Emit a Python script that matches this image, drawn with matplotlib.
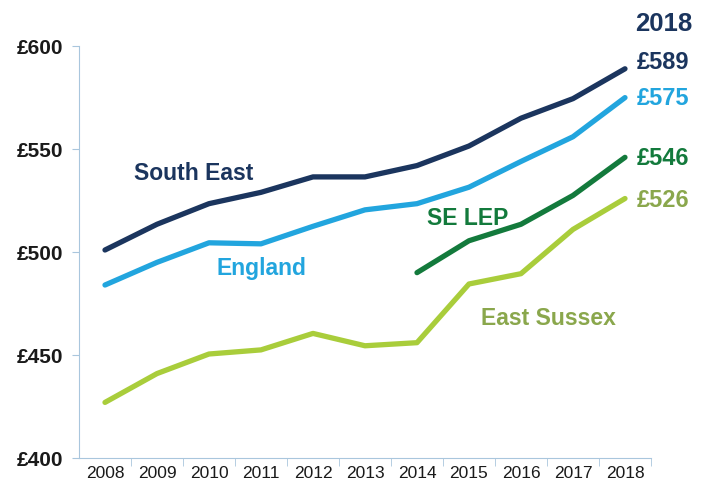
import matplotlib.pyplot as plt

plt.rcParams['font.family'] = ['Liberation Sans', 'DejaVu Sans']

years = [2008, 2009, 2010, 2011, 2012, 2013, 2014, 2015, 2016, 2017, 2018]
south_east = [501, 513.5, 523.5, 529, 536.5, 536.5, 542, 551.5, 565, 574.5, 589]
england = [484, 495, 504.5, 504, 512.5, 520.5, 523.5, 531.5, 544, 556, 575]
se_lep_years = [2014, 2015, 2016, 2017, 2018]
se_lep = [490, 505.5, 513.5, 527.5, 546]
east_sussex = [427, 441, 450.5, 452.5, 460.5, 454.5, 456, 484.5, 489.5, 511, 526]

navy = "#1b355e"
blue = "#22a5de"
dkgreen = "#137a3c"
ltgreen = "#a9cd3b"
olive = "#8aa74c"

fig = plt.figure(figsize=(7.04, 4.84), dpi=100)
ax = fig.add_axes([0.1122, 0.0537, 0.8125, 0.851])

lw = 3.8
ax.plot(years, south_east, color=navy, lw=lw, solid_capstyle="round")
ax.plot(years, england, color=blue, lw=lw, solid_capstyle="round")
ax.plot(se_lep_years, se_lep, color=dkgreen, lw=lw, solid_capstyle="round")
ax.plot(years, east_sussex, color=ltgreen, lw=lw, solid_capstyle="round")

ax.set_xlim(2007.5, 2018.5)
ax.set_ylim(400, 600)

# series names
lab_kw = dict(ha="center", va="center", fontsize=16.5, fontweight="bold")
ax.text(2009.71, 538.3, "South East", color=navy, **lab_kw)
ax.text(2011.0, 492.2, "England", color=blue, **lab_kw)
ax.text(2014.98, 516.5, "SE LEP", color=dkgreen, **lab_kw)
ax.text(2016.53, 467.5, "East Sussex", color=olive, **lab_kw)

# 2018 values on the right
ax.text(2018.74, 610.7, "2018", color=navy, ha="center", va="center",
        fontsize=18.5, fontweight="bold")
ends = [(south_east[-1], navy, 592.2), (england[-1], blue, 574.8),
        (se_lep[-1], dkgreen, 545.6), (east_sussex[-1], olive, 525.2)]
for val, c, ypos in ends:
    ax.text(2018.74, ypos, "£%d" % val, color=c, ha="center", va="center",
            fontsize=17, fontweight="bold")

# axes styling
spine_c = "#a9c6dd"
for s in ["top", "right"]:
    ax.spines[s].set_visible(False)
ax.spines["left"].set_color(spine_c)
ax.spines["bottom"].set_color(spine_c)

ax.set_yticks([400, 450, 500, 550, 600])
ax.set_yticklabels(["£400", "£450", "£500", "£550", "£600"],
                   fontsize=15, fontweight="bold", color="#1a1a1a")
ax.tick_params(axis="y", color=spine_c, length=5, pad=6)

ax.set_xticks(years)
ax.set_xticklabels([str(y) for y in years], fontsize=12.5, color="#1a1a1a")
ax.set_xticks([y + 0.5 for y in years], minor=True)
ax.tick_params(axis="x", which="major", length=0, pad=6)
ax.tick_params(axis="x", which="minor", color=spine_c, length=6)

fig.savefig("out.png", dpi=100)
